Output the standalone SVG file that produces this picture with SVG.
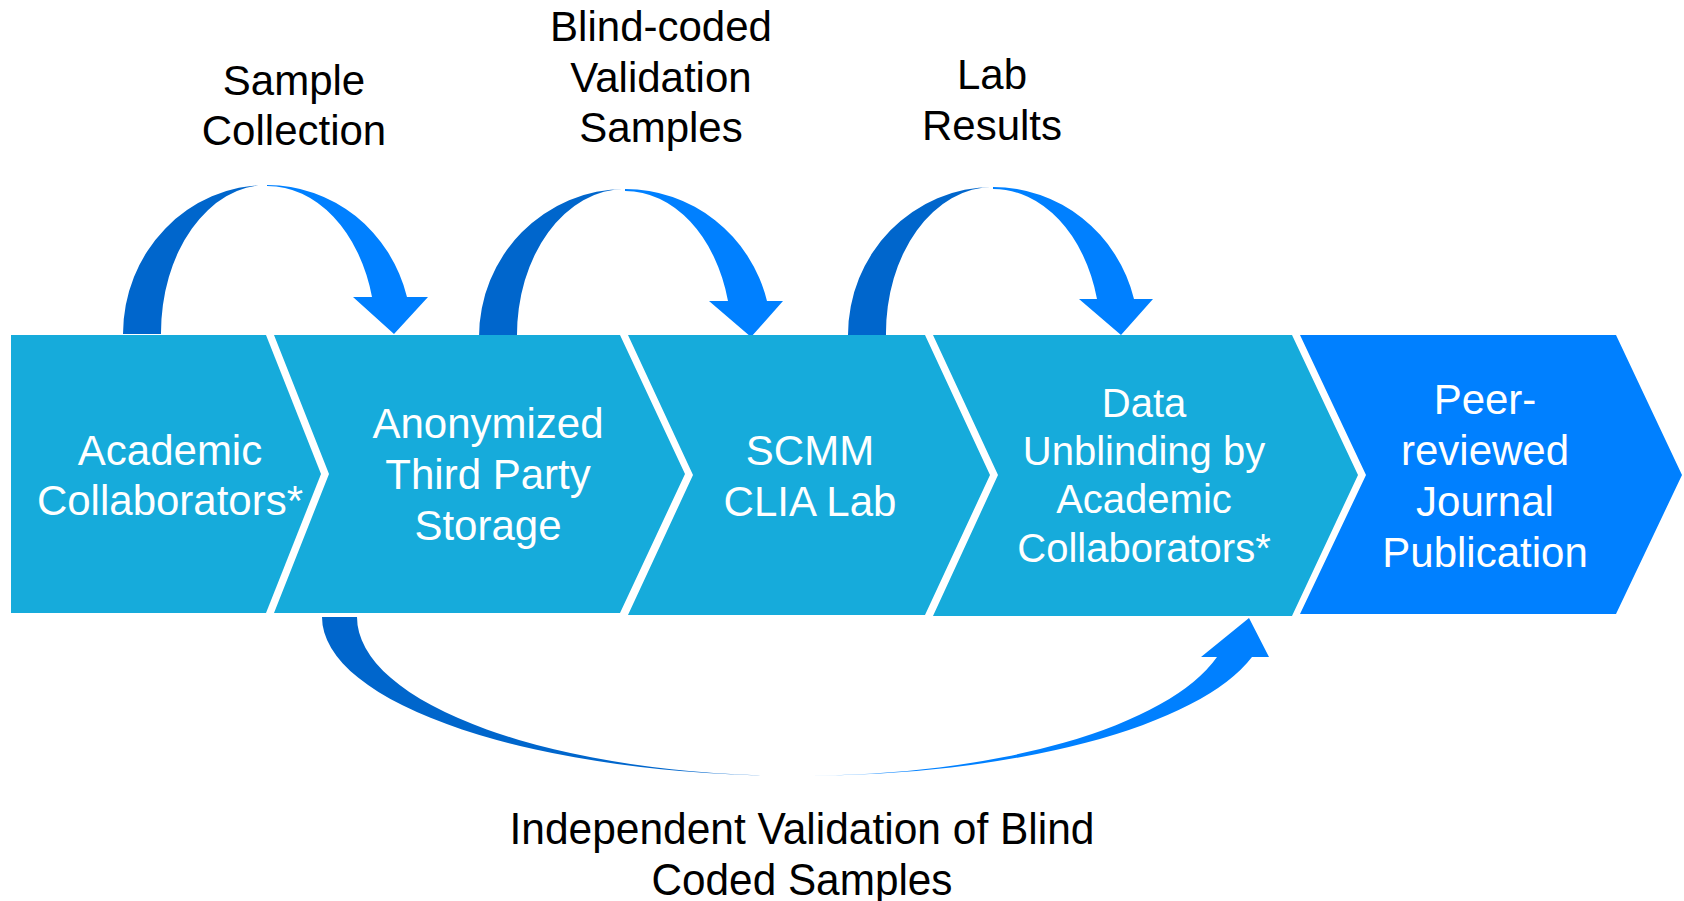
<svg xmlns="http://www.w3.org/2000/svg" width="1684" height="901" viewBox="0 0 1684 901">
  <style>
    .step { fill: #16abdb; }
    .final { fill: #0080ff; }
    .back { fill: #0066cc; }
    .front { fill: #0080ff; }
    .node-text { font-family: "Liberation Sans", Arial, sans-serif; font-size: 42px; fill: #ffffff; text-anchor: middle; }
    .label { font-family: "Liberation Sans", Arial, sans-serif; font-size: 42px; fill: #000000; text-anchor: middle; }
  </style>
  <rect width="1684" height="901" fill="#ffffff"/>

  <!-- curved transfer arrows -->
  <g id="connectors">
    <g id="arrow-sample-collection">
      <path class="back" d="M123,334 A144,149 0 0 1 267,185 A106,148 0 0 0 161,334 Z"/>
      <path class="front" d="M267,185 A144,149 0 0 1 407,297 L428,297 L394,334 L353,297 L372,297 A108,148 0 0 0 267,186 Z"/>
      <text class="label" x="294" y="95">Sample</text>
      <text class="label" x="294" y="145">Collection</text>
    </g>
    <g id="arrow-blind-coded">
      <path class="back" d="M479,337 A146,148 0 0 1 625,189 A108,146 0 0 0 517,337 Z"/>
      <path class="front" d="M625,189 A146,148 0 0 1 767,301 L783,301 L751,337 L709,301 L728,301 A106,146 0 0 0 625,191 Z"/>
      <text class="label" x="661" y="41">Blind-coded</text>
      <text class="label" x="661" y="92">Validation</text>
      <text class="label" x="661" y="142">Samples</text>
    </g>
    <g id="arrow-lab-results">
      <path class="back" d="M848,335 A145,148 0 0 1 993,187 A107,146 0 0 0 886,335 Z"/>
      <path class="front" d="M993,187 A145,148 0 0 1 1134,299 L1153,299 L1121,335 L1079,299 L1097,299 A107,146 0 0 0 993,189 Z"/>
      <text class="label" x="992" y="89">Lab</text>
      <text class="label" x="992" y="140">Results</text>
    </g>
    <g id="arrow-independent-validation">
      <path class="back" d="M322,617 A478,159 0 0 0 800,776 A443,159 0 0 1 357,617 Z"/>
      <path class="front" d="M800,776 A467,159 0 0 0 1252,657 L1269,657 L1249,618 L1201,657 L1217,657 A431,159 0 0 1 800,776 Z"/>
      <text class="label" x="802" y="844" style="font-size:44px" textLength="585" lengthAdjust="spacingAndGlyphs">Independent Validation of Blind</text>
      <text class="label" x="802" y="895" style="font-size:44px" textLength="301" lengthAdjust="spacingAndGlyphs">Coded Samples</text>
    </g>
  </g>

  <!-- process chevrons -->
  <g id="node-academic-collaborators">
    <polygon class="step" points="11,335 266,335 321,474 266,613 11,613"/>
    <text class="node-text" x="170" y="465">Academic</text>
    <text class="node-text" x="170" y="515">Collaborators*</text>
  </g>
  <g id="node-third-party-storage">
    <polygon class="step" points="274,335 620,335 685,474 620,613 274,613 329,474"/>
    <text class="node-text" x="488" y="438">Anonymized</text>
    <text class="node-text" x="488" y="489">Third Party</text>
    <text class="node-text" x="488" y="540">Storage</text>
  </g>
  <g id="node-clia-lab">
    <polygon class="step" points="628,335 925,335 990,475 925,615 628,615 693,475"/>
    <text class="node-text" x="810" y="465">SCMM</text>
    <text class="node-text" x="810" y="516">CLIA Lab</text>
  </g>
  <g id="node-data-unblinding">
    <polygon class="step" points="933,335 1292,335 1358,475 1292,616 933,616 998,475"/>
    <text class="node-text" x="1144" y="417" style="font-size:40px">Data</text>
    <text class="node-text" x="1144" y="465" style="font-size:40px">Unblinding by</text>
    <text class="node-text" x="1144" y="513" style="font-size:40px">Academic</text>
    <text class="node-text" x="1144" y="562" style="font-size:40px">Collaborators*</text>
  </g>
  <g id="node-journal-publication">
    <polygon class="final" points="1300,335 1616,335 1682,475 1616,614 1300,614 1366,475"/>
    <text class="node-text" x="1485" y="414">Peer-</text>
    <text class="node-text" x="1485" y="465">reviewed</text>
    <text class="node-text" x="1485" y="516">Journal</text>
    <text class="node-text" x="1485" y="567">Publication</text>
  </g>
</svg>
